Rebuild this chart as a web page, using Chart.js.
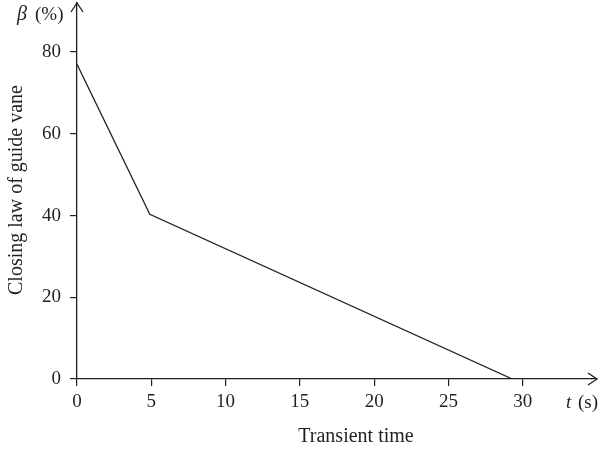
<!DOCTYPE html>
<html>
<head>
<meta charset="utf-8">
<script src="https://cdn.jsdelivr.net/npm/chart.js@4"></script>
<style>
  body { margin: 0; background: #fff; }
  #wrap { width: 602px; height: 451px; }
</style>
</head>
<body>
<div id="wrap"><canvas id="myChart" width="602" height="451"></canvas></div>
<script>
// transient time (s) vs closing law of guide vane (%)
var timeS = [0, 4.9, 29.3];
var beta = [77, 40.3, 0];
var xTicks = [0, 5, 10, 15, 20, 25, 30];
var yTicks = [0, 20, 40, 60, 80];

var ink = '#231f20';
var serif = '"Liberation Serif", "DejaVu Serif", serif';

var points = timeS.map(function (t, i) { return { x: t, y: beta[i] }; });

// arrows and axis labels
var extras = {
  id: 'extras',
  afterDraw: function (chart) {
    var c = chart.ctx, a = chart.chartArea;
    c.save();
    c.strokeStyle = ink;
    c.lineWidth = 1.3;
    c.beginPath();
    c.moveTo(a.left - 6, a.top + 9); c.lineTo(a.left, a.top); c.lineTo(a.left + 6, a.top + 9);
    c.moveTo(a.right - 9, a.bottom - 6); c.lineTo(a.right, a.bottom); c.lineTo(a.right - 9, a.bottom + 6);
    c.stroke();

    c.fillStyle = ink;
    c.textBaseline = 'middle';
    c.font = '20px ' + serif;
    c.textAlign = 'center';
    c.fillText('Transient time', 356, 437);
    c.save();
    c.translate(17, 190);
    c.rotate(-Math.PI / 2);
    c.fillText('Closing law of guide vane', 0, 0);
    c.restore();

    // β (%)
    c.textAlign = 'left';
    c.font = 'italic 20px ' + serif;
    c.fillText('\u03b2', 17, 15);
    c.font = '19px ' + serif;
    c.fillText('(%)', 35, 15);
    // t (s)
    c.font = 'italic 19px ' + serif;
    c.fillText('t', 566, 403);
    c.font = '19px ' + serif;
    c.fillText('(s)', 578, 403);
    c.restore();
  }
};

new Chart(document.querySelector('#myChart').getContext('2d'), {
  type: 'scatter',
  data: {
    datasets: [{
      data: points,
      showLine: true,
      borderColor: ink,
      borderWidth: 1.3,
      pointRadius: 0,
      fill: false
    }]
  },
  options: {
    responsive: false,
    animation: false,
    layout: { padding: { top: 3, right: 5, left: 0, bottom: 0 } },
    plugins: { legend: { display: false }, tooltip: { enabled: false } },
    scales: {
      x: {
        type: 'linear', min: 0, max: 35,
        afterBuildTicks: function (s) { s.ticks = xTicks.map(function (v) { return { value: v }; }); },
        afterFit: function (s) { s.height = 72; s.paddingLeft = 0; s.paddingRight = 0; },
        grid: { drawOnChartArea: false, tickLength: 7, color: ink, lineWidth: 1.2 },
        border: { color: ink, width: 1.3 },
        ticks: { color: ink, font: { family: serif, size: 19 }, padding: 5, maxRotation: 0 }
      },
      y: {
        type: 'linear', min: 0, max: 92,
        afterBuildTicks: function (s) { s.ticks = yTicks.map(function (v) { return { value: v }; }); },
        afterFit: function (s) { s.width = 77; s.paddingTop = 0; s.paddingBottom = 0; },
        grid: { drawOnChartArea: false, tickLength: 7, color: ink, lineWidth: 1.2 },
        border: { color: ink, width: 1.3 },
        ticks: { color: ink, font: { family: serif, size: 19 }, padding: 9 }
      }
    }
  },
  plugins: [extras]
});
</script>
</body>
</html>
